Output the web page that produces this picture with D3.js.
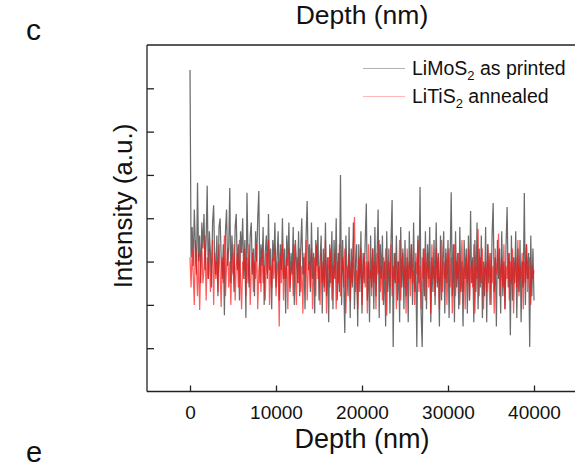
<!DOCTYPE html>
<html>
<head>
<meta charset="utf-8">
<script src="https://cdn.jsdelivr.net/npm/d3@7"></script>
<style>
  html, body { margin: 0; padding: 0; background: #fff; }
  svg { display: block; }
  text { font-family: "Liberation Sans", Arial, Helvetica, sans-serif; fill: #111; }
</style>
</head>
<body>
<svg id="chart" width="575" height="462"></svg>
<script>
// ---------- data ----------
const depthStart = 0;      // nm
const depthEnd = 40000;    // nm
const xTicks = [0, 10000, 20000, 30000, 40000];
const yTicks = [1, 2, 3, 4, 5, 6, 7];

const limos2AsPrinted = [
  7.42, 3.1, 3.8, 2.9, 4.2, 3.4, 2.7, 4.82, 3.0, 3.6, 2.5, 3.9, 3.3, 4.1, 2.8, 3.5, 4.75, 2.6, 3.7, 3.2,
  2.4, 3.9, 4.3, 3.0, 2.7, 3.6, 2.2, 3.8, 4.0, 3.1, 2.6, 3.4, 1.76, 3.7, 4.2, 2.9, 3.3, 4.7, 2.5, 3.6,
  3.0, 2.3, 3.8, 4.1, 2.8, 3.4, 2.1, 3.7, 3.2, 4.0, 2.6, 3.5, 1.7, 4.59, 3.1, 2.4, 3.6, 3.9, 2.7, 3.3,
  2.2, 3.7, 3.0, 4.0, 4.63, 2.5, 3.4, 2.9, 3.8, 2.0, 3.2, 3.6, 2.6, 4.1, 2.8, 3.3, 1.9, 3.5, 3.0, 3.9,
  2.4, 3.1, 3.7, 2.1, 3.4, 2.8, 4.0, 2.6, 3.3, 1.8, 3.6, 2.9, 3.9, 2.3, 3.2, 2.7, 3.8, 2.0, 3.5, 3.0,
  2.5, 3.7, 2.2, 3.3, 4.0, 2.7, 3.1, 1.9, 3.6, 4.4, 2.8, 3.4, 2.3, 3.9, 2.6, 3.2, 1.8, 3.5, 2.9, 3.8,
  2.1, 3.0, 3.6, 1.8, 3.3, 2.4, 3.9, 2.2, 3.1, 1.6, 3.4, 2.5, 3.7, 1.9, 3.5, 2.6, 4.0, 2.1, 3.2, 2.3,
  5.0, 2.0, 3.5, 2.5, 1.35, 3.6, 2.8, 2.2, 3.8, 1.7, 3.3, 2.4, 3.9, 1.9, 3.0, 3.4, 1.5, 3.4, 2.3, 3.7,
  1.8, 3.2, 2.5, 3.5, 4.34, 2.1, 3.0, 1.6, 3.6, 2.4, 3.3, 1.9, 3.8, 2.2, 3.1, 4.2, 1.7, 3.4, 2.6, 3.6,
  2.0, 3.0, 1.5, 3.7, 2.3, 3.3, 1.8, 3.5, 4.42, 1.03, 3.2, 2.5, 3.6, 2.1, 3.0, 1.6, 3.8, 2.4, 3.3, 1.9,
  3.5, 2.2, 3.1, 1.6, 3.7, 2.6, 3.4, 2.0, 3.9, 2.3, 3.0, 1.03, 3.6, 2.5, 4.72, 1.8, 1.03, 3.3, 2.2, 3.7,
  1.9, 3.4, 2.6, 3.8, 1.6, 3.1, 2.3, 3.5, 2.0, 3.9, 2.4, 3.2, 1.5, 3.6, 2.1, 3.0, 3.7, 1.8, 3.3, 2.5,
  3.5, 1.7, 3.1, 4.6, 2.2, 3.4, 1.6, 3.7, 2.4, 3.2, 1.9, 3.8, 2.3, 3.0, 1.5, 3.5, 2.6, 3.3, 1.8, 3.6,
  2.1, 4.17, 2.5, 3.1, 1.6, 3.5, 2.3, 3.9, 1.9, 3.3, 2.4, 3.6, 1.7, 3.0, 2.2, 3.8, 1.6, 3.4, 2.5, 3.2,
  2.0, 3.6, 4.35, 2.3, 3.1, 1.5, 3.5, 2.6, 3.3, 1.8, 3.7, 2.2, 3.0, 1.9, 3.4, 4.26, 2.4, 3.2, 1.3, 3.6,
  2.1, 3.1, 2.5, 3.7, 1.7, 3.3, 2.3, 3.5, 1.6, 3.0, 2.4, 4.58, 2.0, 3.4, 2.6, 3.2, 1.03, 3.6, 2.2, 3.3,
  2.1
];

const litis2Annealed = [
  3.1, 2.4, 3.3, 2.7, 2.0, 3.5, 2.9, 2.2, 3.2, 1.88, 3.0, 3.4, 2.5, 2.8, 3.6, 2.1, 3.1, 2.6, 3.3, 2.3,
  2.9, 3.5, 2.0, 3.2, 2.6, 3.0, 2.3, 3.4, 2.8, 1.95, 3.1, 2.5, 3.6, 2.2, 2.9, 3.3, 2.4, 3.0, 2.0, 3.2,
  2.7, 3.4, 2.1, 2.9, 3.2, 2.4, 3.5, 2.6, 1.9, 3.0, 2.8, 3.3, 2.2, 3.1, 2.5, 3.4, 2.0, 2.8, 3.2, 2.3,
  3.0, 2.6, 3.4, 1.9, 2.8, 3.1, 2.3, 3.3, 2.5, 2.9, 2.1, 3.2, 2.7, 3.5, 2.0, 2.9, 2.4, 3.1, 2.6, 3.3,
  2.2, 2.8, 3.0, 1.5, 3.2, 2.5, 3.4, 2.1, 2.9, 2.6, 3.1, 1.9, 3.3, 2.4, 2.8, 3.0, 2.2, 3.4, 2.6, 2.0,
  3.1, 2.5, 3.3, 2.3, 2.9, 1.8, 3.2, 2.7, 3.5, 2.1, 2.8, 3.0, 2.4, 3.3, 1.9, 2.7, 3.1, 2.2, 3.4, 2.6,
  2.9, 2.0, 3.2, 2.5, 3.0, 2.3, 3.5, 1.8, 2.8, 3.1, 2.4, 3.3, 2.1, 2.9, 2.6, 3.2, 1.9, 3.0, 2.5, 3.4,
  2.2, 2.8, 3.1, 2.4, 3.3, 1.8, 2.9, 2.6, 3.2, 2.1, 3.0, 2.5, 3.4, 4.03, 2.3, 2.8, 1.9, 3.1, 2.6, 3.3,
  2.0, 2.9, 3.2, 2.4, 3.0, 1.8, 3.4, 2.6, 2.8, 2.2, 3.3, 2.5, 3.0, 1.9, 3.2, 2.7, 3.5, 2.3, 2.9, 2.1,
  3.1, 2.6, 3.3, 1.75, 2.8, 3.0, 2.4, 3.4, 2.2, 2.9, 2.6, 3.2, 1.9, 3.0, 2.5, 3.5, 2.1, 2.8, 3.2, 2.4,
  2.9, 1.8, 3.3, 2.6, 3.0, 2.2, 3.4, 2.5, 2.8, 2.0, 3.2, 2.7, 3.5, 2.3, 2.9, 1.9, 3.1, 2.6, 3.3, 2.1,
  2.8, 3.2, 2.4, 3.0, 1.8, 3.4, 2.6, 2.9, 2.2, 3.3, 2.5, 3.1, 1.9, 2.8, 3.5, 2.3, 3.0, 2.6, 3.2, 2.0,
  2.9, 3.3, 2.4, 3.1, 1.8, 2.7, 3.4, 2.2, 3.0, 2.6, 3.2, 2.0, 2.8, 3.5, 2.3, 2.9, 1.9, 3.1, 2.5, 3.3,
  2.1, 2.8, 3.0, 2.4, 3.4, 1.8, 2.9, 2.6, 3.75, 2.2, 3.1, 2.5, 3.3, 1.9, 2.8, 3.0, 2.3, 3.4, 2.6, 2.0,
  3.2, 2.5, 2.9, 1.8, 3.3, 2.7, 3.0, 3.65, 2.2, 2.8, 3.1, 2.4, 3.4, 1.9, 2.9, 2.6, 3.2, 2.1, 3.0, 2.5,
  3.3, 1.8, 2.8, 3.1, 2.4, 3.5, 2.2, 2.9, 2.6, 3.2, 1.9, 3.0, 2.5, 3.4, 2.3, 2.8, 3.1, 2.0, 2.9, 2.6,
  2.8
];

// ---------- layout ----------
const svg = d3.select("#chart");
const plot = { left: 147, right: 577, top: 45, bottom: 391.5 };

const x = d3.scaleLinear().domain([-5000, 45000]).range([plot.left, plot.right]);
const y = d3.scaleLinear().domain([0, 8]).range([plot.bottom, plot.top]);

svg.append("clipPath").attr("id", "clip")
  .append("rect")
  .attr("x", plot.left).attr("y", plot.top)
  .attr("width", plot.right - plot.left).attr("height", plot.bottom - plot.top);

function depthOf(i, n) { return depthStart + (depthEnd - depthStart) * i / (n - 1); }

const styles = [
  { data: limos2AsPrinted, color: "#000000", opacity: 0.58, width: 1.25 },
  { data: litis2Annealed, color: "#ff1010", opacity: 0.68, width: 1.25 }
];

const traces = svg.append("g").attr("clip-path", "url(#clip)");
styles.forEach(s => {
  const n = s.data.length;
  const line = d3.line().x((d, i) => x(depthOf(i, n))).y(d => y(d));
  traces.append("path")
    .datum(s.data)
    .attr("fill", "none")
    .attr("stroke", s.color)
    .attr("stroke-opacity", s.opacity)
    .attr("stroke-width", s.width)
    .attr("d", line);
});

// axes box
const axisColor = "#222";
[[plot.left, plot.top, plot.right, plot.top],
 [plot.left, plot.bottom, plot.right, plot.bottom],
 [plot.left, plot.top, plot.left, plot.bottom]].forEach(([x1, y1, x2, y2]) => {
  svg.append("line").attr("x1", x1).attr("y1", y1).attr("x2", x2).attr("y2", y2)
    .attr("stroke", axisColor).attr("stroke-width", 1.3);
});

// x axis (ticks inward)
const xAxis = d3.axisBottom(x).tickValues(xTicks).tickSize(-6).tickPadding(14)
  .tickFormat(d3.format("d"));
const gx = svg.append("g").attr("transform", `translate(0,${plot.bottom})`).call(xAxis);
gx.select(".domain").remove();
gx.selectAll(".tick line").attr("stroke", axisColor).attr("stroke-width", 1.3);
gx.selectAll(".tick text")
  .attr("font-size", "19px")
  .attr("font-family", "'Liberation Sans', Arial, sans-serif")
  .attr("fill", "#111");

// y axis (ticks inward, no labels)
const yAxis = d3.axisLeft(y).tickValues(yTicks).tickSize(-7).tickFormat("");
const gy = svg.append("g").attr("transform", `translate(${plot.left},0)`).call(yAxis);
gy.select(".domain").remove();
gy.selectAll(".tick line").attr("stroke", axisColor).attr("stroke-width", 1.3);

// titles
const cx = (plot.left + plot.right) / 2;
svg.append("text").attr("x", cx).attr("y", 24).attr("text-anchor", "middle")
  .attr("font-size", "26.5px").text("Depth (nm)");
svg.append("text").attr("x", cx).attr("y", 448).attr("text-anchor", "middle")
  .attr("font-size", "27px").text("Depth (nm)");
svg.append("text").attr("x", 26).attr("y", 40)
  .attr("font-size", "30px").text("c");
svg.append("text").attr("x", 26).attr("y", 462)
  .attr("font-size", "29px").text("e");
svg.append("text")
  .attr("transform", `translate(132,206) rotate(-90)`)
  .attr("text-anchor", "middle")
  .attr("font-size", "26px").text("Intensity (a.u.)");

// legend
const legendItems = [
  { main: "LiMoS", sub: "2", rest: " as printed", style: styles[0] },
  { main: "LiTiS", sub: "2", rest: " annealed", style: styles[1] }
];
const legend = svg.append("g");
legendItems.forEach((it, i) => {
  const yy = 68.5 + i * 28;
  legend.append("line")
    .attr("x1", 363).attr("x2", 405).attr("y1", yy).attr("y2", yy)
    .attr("stroke", it.style.color).attr("stroke-opacity", 0.3)
    .attr("stroke-width", 1);
  const t = legend.append("text").attr("x", 412).attr("y", yy + 6.5).attr("font-size", "19.5px");
  t.append("tspan").text(it.main);
  t.append("tspan").attr("font-size", "13px").attr("dy", 5).text(it.sub);
  t.append("tspan").attr("dy", -5).text(it.rest);
});
</script>
</body>
</html>
